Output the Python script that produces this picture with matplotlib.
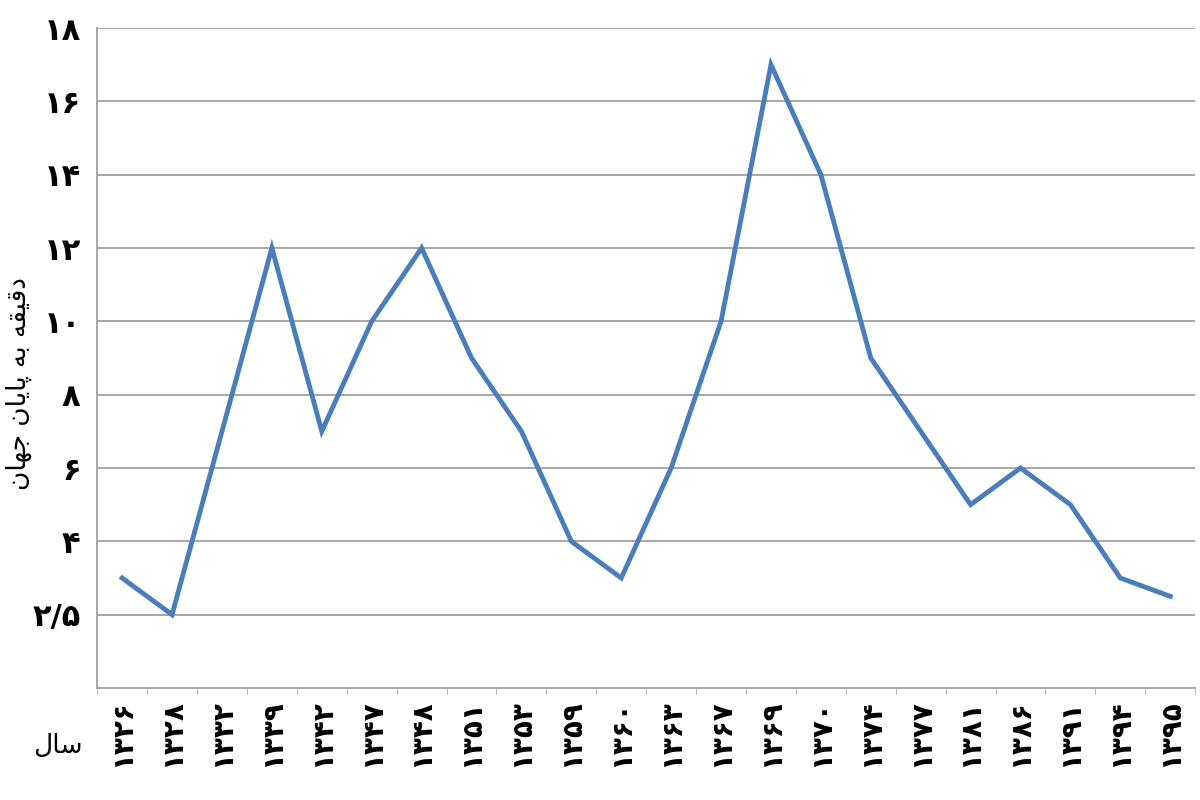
import matplotlib
matplotlib.use("Agg")
import matplotlib.pyplot as plt
import numpy as np

plt.rcParams['font.family'] = ['DejaVu Sans']

# سال ها (شمسی) و دقیقه به پایان جهان
years = ['۱۳۲۶', '۱۳۲۸', '۱۳۳۲', '۱۳۳۹', '۱۳۴۲', '۱۳۴۷', '۱۳۴۸', '۱۳۵۱', '۱۳۵۳', '۱۳۵۹', '۱۳۶۰',
         '۱۳۶۳', '۱۳۶۷', '۱۳۶۹', '۱۳۷۰', '۱۳۷۴', '۱۳۷۷', '۱۳۸۱', '۱۳۸۶', '۱۳۹۱', '۱۳۹۴', '۱۳۹۵']
minutes = [3, 2, 7, 12, 7, 10, 12, 9, 7, 4, 3, 6, 10, 17, 14, 9, 7, 5, 6, 5, 3, 2.5]
ytick_vals = [2, 4, 6, 8, 10, 12, 14, 16, 18]
ytick_labels = ['۲/۵', '۴', '۶', '۸', '۱۰', '۱۲', '۱۴', '۱۶', '۱۸']

# persian text, shaped by hand (presentation forms, visual order)
ylabel_txt = '\uFEE5\uFE8E\uFEEC\uFE9F \uFEE5\uFE8E\uFBFE\uFE8E\uFB58 \uFEEA\uFE91 \uFEEA\uFED8\uFBFF\uFED7\uFEA9'
sal_txt = '\uFEDD\uFE8E\uFEB3'

fig = plt.figure(figsize=(12, 8), dpi=100)
ax = fig.add_axes([0.081, 0.14, 0.915, 0.825])

x = np.arange(len(years))
ax.plot(x, minutes, color='#4A7EBB', linewidth=3.5, solid_joinstyle='miter')

ax.set_xlim(-0.5, len(years) - 0.5)
ax.set_ylim(0, 18)
ax.set_yticks(ytick_vals)
ax.set_yticklabels(ytick_labels, fontsize=22, fontweight='bold')
ax.yaxis.grid(True, color='#A6A6A6', linewidth=1.4)
ax.set_axisbelow(True)

ax.set_xticks(x)
ax.set_xticklabels(years, rotation=90, fontsize=20, fontweight='bold', va='top')
ax.set_xticks(np.arange(-0.5, len(years), 1), minor=True)
ax.tick_params(axis='x', which='major', length=0, pad=8)
ax.tick_params(axis='x', which='minor', length=4, color='#A6A6A6')
ax.tick_params(axis='y', length=0, pad=12)

for s in ['top', 'right']:
    ax.spines[s].set_visible(False)
for s in ['left', 'bottom']:
    ax.spines[s].set_color('#A6A6A6')
    ax.spines[s].set_linewidth(1.4)

fig.text(0.016, 0.52, ylabel_txt, rotation=90, fontsize=19, va='center', ha='center')
fig.text(0.048, 0.068, sal_txt, fontsize=19, va='center', ha='center')

fig.savefig('out.png', dpi=100, facecolor='white')
